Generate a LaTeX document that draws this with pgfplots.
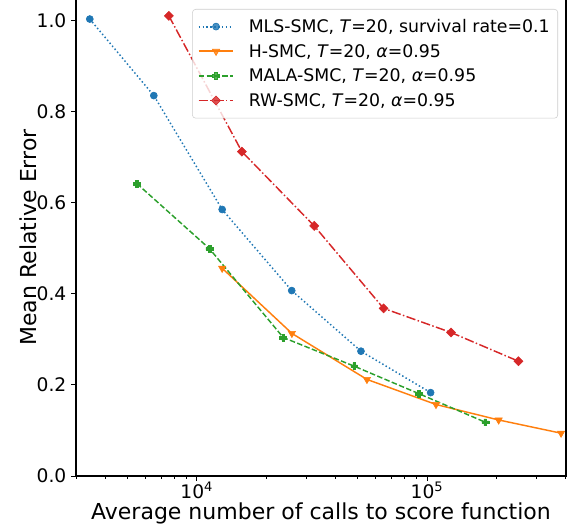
\documentclass[border=0pt]{standalone}
\usepackage{fontspec}
\setmainfont{DejaVu Sans}
\usepackage{pgfplots}
\pgfplotsset{compat=1.18}

\definecolor{mplblue}{HTML}{1F77B4}
\definecolor{mplorange}{HTML}{FF7F0E}
\definecolor{mplgreen}{HTML}{2CA02C}
\definecolor{mplred}{HTML}{D62728}

% filled plus marker
\pgfdeclareplotmark{pfill}{%
  \pgfmathsetlengthmacro{\a}{0.4*\pgfplotmarksize}%
  \pgfpathmoveto{\pgfqpoint{-\a}{\pgfplotmarksize}}%
  \pgfpathlineto{\pgfqpoint{\a}{\pgfplotmarksize}}%
  \pgfpathlineto{\pgfqpoint{\a}{\a}}%
  \pgfpathlineto{\pgfqpoint{\pgfplotmarksize}{\a}}%
  \pgfpathlineto{\pgfqpoint{\pgfplotmarksize}{-\a}}%
  \pgfpathlineto{\pgfqpoint{\a}{-\a}}%
  \pgfpathlineto{\pgfqpoint{\a}{-\pgfplotmarksize}}%
  \pgfpathlineto{\pgfqpoint{-\a}{-\pgfplotmarksize}}%
  \pgfpathlineto{\pgfqpoint{-\a}{-\a}}%
  \pgfpathlineto{\pgfqpoint{-\pgfplotmarksize}{-\a}}%
  \pgfpathlineto{\pgfqpoint{-\pgfplotmarksize}{\a}}%
  \pgfpathlineto{\pgfqpoint{-\a}{\a}}%
  \pgfpathclose
  \pgfusepathqfillstroke}
% square rotated by 45 degrees
\pgfdeclareplotmark{sqdiamond}{%
  \pgfpathmoveto{\pgfqpoint{0pt}{\pgfplotmarksize}}%
  \pgfpathlineto{\pgfqpoint{\pgfplotmarksize}{0pt}}%
  \pgfpathlineto{\pgfqpoint{0pt}{-\pgfplotmarksize}}%
  \pgfpathlineto{\pgfqpoint{-\pgfplotmarksize}{0pt}}%
  \pgfpathclose
  \pgfusepathqfillstroke}

\begin{document}
\begin{tikzpicture}
\begin{axis}[
  name=ax,
  scale only axis,
  width=367.5pt, height=357.75pt,
  xmode=log,
  xmin=2985, xmax=401800,
  ymin=0, ymax=1.047,
  xtick={1e4,1e5},
  xticklabels={10\textsuperscript{4},10\textsuperscript{5}},
  xticklabel style={yshift=3pt},
  minor xtick={3000,4000,5000,6000,7000,8000,9000,20000,30000,40000,50000,60000,70000,80000,90000,200000,300000,400000},
  ytick={0,0.2,0.4,0.6,0.8,1.0},
  yticklabel style={/pgf/number format/.cd, fixed, fixed zerofill, precision=1, assume math mode=true},
  tick align=outside,
  tick pos=left,
  major tick length=3.75pt,
  minor tick length=2.2pt,
  every tick/.style={black, line width=0.7pt},
  axis line style={line width=0.8pt},
  tick label style={font=\fontsize{14}{16}\selectfont},
  xlabel={Average number of calls to score function},
  ylabel={Mean Relative Error},
  label style={font=\fontsize{16.5}{19}\selectfont},
  ylabel style={at={(axis description cs:-0.098,0.5)}, anchor=center},
  xlabel style={at={(axis description cs:0.5,0)}, anchor=center, yshift=-28pt},
  legend style={at={(1,1)}, anchor=north east, xshift=-6pt, yshift=-7.5pt,
    draw=black!20, fill=white, fill opacity=0.8, text opacity=1,
    rounded corners=2.5pt, font=\fontsize{13}{15}\selectfont,
    row sep=3.3pt, inner xsep=4pt, inner ysep=5.5pt},
  legend cell align=left,
  legend image code/.code={%
    \draw[mark repeat=2, mark phase=2, #1, line width=1.45pt] plot coordinates {(0pt,0.2pt) (13pt,0.2pt) (26pt,0.2pt)};
    \path (35pt,0pt);},
  every axis plot/.append style={line width=1.1pt, line cap=butt},
]
\addplot[mplblue, dash pattern=on 1.1pt off 1.8pt, mark=*, mark size=2.6pt,
  mark options={solid, fill=mplblue, line width=0.5pt}]
  coordinates {(3426,1.003) (6501,0.835) (12882,0.585) (25834,0.407) (51641,0.274) (103680,0.183)};
\addlegendentry{MLS-SMC, \textit{T}=20, survival rate=0.1}

\addplot[mplorange, solid, mark=triangle*, mark size=3.1pt,
  mark options={solid, rotate=180, fill=mplorange, line width=0.5pt}]
  coordinates {(12882,0.456) (25880,0.313) (54830,0.212) (109400,0.157) (204800,0.123) (382400,0.094)};
\addlegendentry{H-SMC, \textit{T}=20, \textit{α}=0.95}

\addplot[mplgreen, dash pattern=on 4.1pt off 1.8pt, mark=pfill, mark size=2.6pt,
  mark options={solid, fill=mplgreen, line width=0.4pt}]
  coordinates {(5484,0.642) (11344,0.499) (23730,0.304) (48300,0.241) (91930,0.181) (179300,0.118)};
\addlegendentry{MALA-SMC, \textit{T}=20, \textit{α}=0.95}

\addplot[mplred, dash pattern=on 7pt off 1.8pt on 1.1pt off 1.8pt, mark=sqdiamond, mark size=3.4pt,
  mark options={solid, fill=mplred, line width=0.4pt}]
  coordinates {(7556,1.010) (15690,0.712) (32360,0.549) (64750,0.368) (127200,0.315) (249500,0.252)};
\addlegendentry{RW-SMC, \textit{T}=20, \textit{α}=0.95}
\end{axis}
\pgfresetboundingbox
\path[use as bounding box] ([xshift=-57pt,yshift=-39.75pt]ax.south west) rectangle ([xshift=5.25pt,yshift=-0.75pt]ax.north east);
\end{tikzpicture}
\end{document}
